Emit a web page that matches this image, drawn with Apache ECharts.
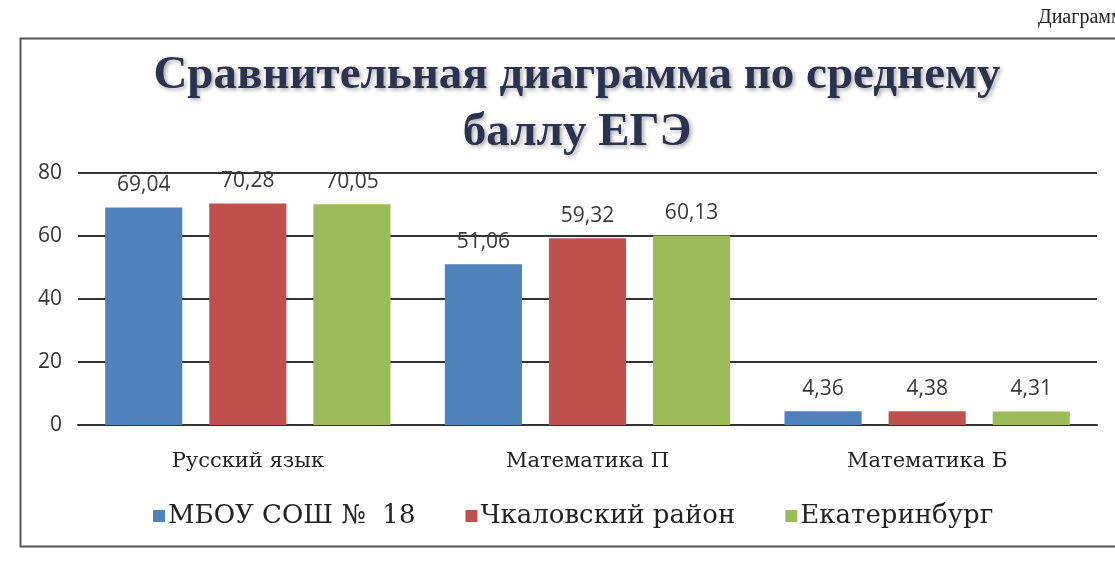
<!DOCTYPE html>
<html><head><meta charset="utf-8">
<script src="https://cdn.jsdelivr.net/npm/echarts@6/dist/echarts.min.js"></script>
<style>html,body{margin:0;padding:0;background:#fff}#c{width:1115px;height:561px}</style>
</head><body><div id="c"></div>
<script>
const categories = ['Русский язык', 'Математика П', 'Математика Б'];
const seriesNames = ['МБОУ СОШ №  18', 'Чкаловский район', 'Екатеринбург'];
const school = [69.04, 51.06, 4.36];
const district = [70.28, 59.32, 4.38];
const city = [70.05, 60.13, 4.31];
const yTicks = [0, 20, 40, 60, 80];
const colors = ['#4F81BD', '#C0504D', '#9BBB59'];

const chart = echarts.init(document.getElementById('c'));
const mk = (name, data, color) => ({
  name, type: 'bar', data, barGap: '35%', barCategoryGap: '16%',
  itemStyle: { color },
  label: { show: true, position: 'top', distance: 12, color: '#3a3a3a',
    fontFamily: 'Open Sans, sans-serif', fontSize: 21,
    formatter: p => p.value.toFixed(2).replace('.', ',') }
});
chart.setOption({
  animation: false,
  title: {
    text: 'Сравнительная диаграмма по среднему\nбаллу ЕГЭ',
    left: 572, top: 42, textAlign: 'center',
    textStyle: { fontFamily: 'Liberation Serif, serif', fontWeight: 'bold', fontSize: 47,
      lineHeight: 57, color: '#2a3350',
      textShadowColor: 'rgba(0,0,0,0.35)', textShadowBlur: 4, textShadowOffsetX: 2, textShadowOffsetY: 2 }
  },
  legend: {
    left: 148, top: 498, itemWidth: 12, itemHeight: 12, itemGap: 50,
    icon: 'rect',
    textStyle: { fontFamily: 'DejaVu Serif, serif', fontSize: 26, color: '#222', padding: [0,0,0,-2] },
    data: seriesNames
  },
  grid: { left: 78, right: 18, top: 173, bottom: 136 },
  xAxis: {
    type: 'category', data: categories,
    axisLine: { lineStyle: { color: '#333', width: 2 } },
    axisTick: { show: false },
    axisLabel: { margin: 26, fontFamily: 'DejaVu Serif, serif', fontSize: 21, color: '#222' }
  },
  yAxis: {
    type: 'value', min: yTicks[0], max: yTicks[yTicks.length - 1], interval: 20,
    axisLine: { show: false }, axisTick: { show: false },
    axisLabel: { margin: 16, fontFamily: 'Open Sans, sans-serif', fontSize: 21, color: '#333' },
    splitLine: { lineStyle: { color: '#333', width: 2 } }
  },
  series: [mk(seriesNames[0], school, colors[0]), mk(seriesNames[1], district, colors[1]), mk(seriesNames[2], city, colors[2])],
  graphic: [
    { type: 'rect', left: 18, top: 36, shape: { width: 1120, height: 508 },
      style: { fill: 'none', stroke: '#555', lineWidth: 2 }, silent: true },
    { type: 'text', left: 1038, top: 8,
      style: { text: 'Диаграмма', fill: '#222', font: '20px "Liberation Serif", serif' } }
  ]
});
</script></body></html>
